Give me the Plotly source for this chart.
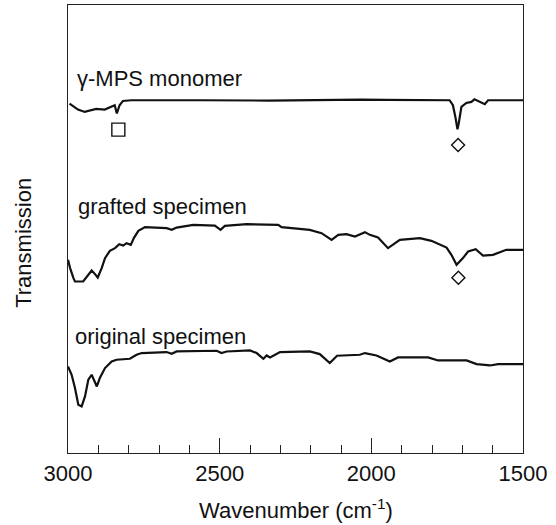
import plotly.graph_objects as go

# ---- data (wavenumber in cm^-1, transmission in arbitrary offset units) ----
monomer_wn = [2995, 2967, 2945, 2923, 2907, 2879, 2857, 2846, 2839, 2830, 2819, 2791, 2560,
              2341, 2033, 1956, 1742, 1731, 1723, 1716, 1712, 1703, 1687, 1670, 1660, 1648,
              1637, 1626, 1615, 1500]
monomer_t = [349.7, 343.7, 341.3, 343, 344.3, 343.7, 346.3, 348, 339.7, 348, 352.3, 353, 353,
             352.7, 353.7, 353.3, 353, 348, 336.3, 324, 329.7, 346.3, 350.3, 351.3, 354, 352,
             350.3, 349, 353, 353]

grafted_wn = [3000, 2993, 2982, 2977, 2950, 2933, 2922, 2911, 2902, 2889, 2878, 2862, 2845,
              2831, 2818, 2807, 2793, 2783, 2768, 2746, 2675, 2658, 2642, 2587, 2516, 2497,
              2483, 2411, 2307, 2296, 2203, 2164, 2131, 2109, 2082, 2054, 2021, 2005, 1978,
              1945, 1906, 1840, 1802, 1752, 1736, 1719, 1698, 1681, 1656, 1632, 1599, 1555,
              1500]
grafted_t = [193.3, 185, 175, 171.6, 171.6, 178.3, 182.6, 179, 175.6, 185, 195, 202.3, 205,
             209, 207.6, 210, 208.3, 215, 222.3, 226, 225, 223.3, 225.6, 228.3, 227.6, 223.3,
             227.3, 229, 228.3, 226, 223.3, 220, 213.3, 218.3, 219, 216.6, 221, 218.3, 215.6,
             205, 213.3, 215, 212.3, 205.6, 198.3, 188.3, 195, 201.6, 204, 197.6, 198.3, 203.3,
             203.3]

original_wn = [3000, 2988, 2977, 2966, 2955, 2944, 2933, 2922, 2905, 2895, 2878, 2856, 2840,
               2796, 2774, 2757, 2675, 2658, 2642, 2510, 2494, 2477, 2400, 2378, 2356, 2345,
               2334, 2301, 2203, 2170, 2137, 2113, 2038, 2021, 1983, 1939, 1912, 1813, 1780,
               1686, 1653, 1609, 1582, 1500]
original_t = [86.6, 78.3, 65, 48.3, 46.6, 56.6, 73.3, 78.3, 66.6, 75, 85, 91.6, 93.3,
              94.3, 98.3, 100, 101, 99.3, 101.6, 102.3, 100, 101.6, 102.6, 100, 94.3, 97.6,
              95.6, 101, 101.6, 99, 90, 97.3, 98.3, 100, 97.6, 91.6, 95.6, 95.6, 92.6,
              92.6, 89, 87.6, 89, 89]

# band markers
square_wn = [2834]
square_t = [323.6]
diamond_wn = [1714, 1713]
diamond_t = [308.3, 175.3]

labels = ["γ-MPS monomer", "grafted specimen", "original specimen"]
tick_vals = [3000, 2500, 2000, 1500]
tick_text = ["3000", "2500", "2000", "1500"]

FONT = "Liberation Sans, Arial, Helvetica, sans-serif"
INK = "#111111"

fig = go.Figure()
for wn, t in [(monomer_wn, monomer_t), (grafted_wn, grafted_t), (original_wn, original_t)]:
    fig.add_trace(go.Scatter(x=wn, y=t, mode="lines",
                             line=dict(color=INK, width=2.2), showlegend=False,
                             hoverinfo="skip"))

fig.add_trace(go.Scatter(x=square_wn, y=square_t, mode="markers",
                         marker=dict(symbol="square-open", size=13, color=INK,
                                     line=dict(width=1.4, color=INK)),
                         showlegend=False))
fig.add_trace(go.Scatter(x=diamond_wn, y=diamond_t, mode="markers",
                         marker=dict(symbol="diamond-open", size=10, color=INK,
                                     line=dict(width=1.4, color=INK)),
                         showlegend=False))

ann_font = dict(family=FONT, size=22, color=INK)
for txt, x, y in [(labels[0], 2977, 375), (labels[1], 2974, 247), (labels[2], 2985, 117)]:
    fig.add_annotation(x=x, y=y, xref="x", yref="y", text=txt, showarrow=False,
                       xanchor="left", yanchor="middle", font=ann_font)

fig.add_annotation(x=-0.098, y=0.47, xref="paper", yref="paper", text="Transmission",
                   showarrow=False, textangle=-90, xanchor="center", yanchor="middle",
                   font=ann_font)
fig.add_annotation(x=0.5, y=-0.125, xref="paper", yref="paper",
                   text="Wavenumber (cm<sup>-1</sup>)",
                   showarrow=False, xanchor="center", yanchor="middle", font=ann_font)

fig.update_xaxes(range=[3000, 1500], tickvals=tick_vals, ticktext=tick_text,
                 ticks="inside", ticklen=15, tickwidth=1.3, tickcolor="#222",
                 minor=dict(ticks="inside", ticklen=8, tickwidth=1.3, tickcolor="#222",
                            dtick=100, tick0=1500, showgrid=False),
                 showline=True, linecolor="#222", linewidth=1.3, mirror=True,
                 showgrid=False, zeroline=False,
                 tickfont=dict(family=FONT, size=22, color=INK))
fig.update_yaxes(range=[0, 448.3], showline=True, linecolor="#222", linewidth=1.3,
                 mirror=True, ticks="", showticklabels=False, showgrid=False,
                 zeroline=False)

fig.update_layout(width=556, height=525,
                  margin=dict(l=68, r=33, t=5, b=72, pad=0),
                  paper_bgcolor="white", plot_bgcolor="white",
                  font=dict(family=FONT, color=INK))

fig.write_html("out.html", config={"displayModeBar": False},
               post_script="document.body.style.margin='0';document.body.style.overflow='hidden';")
